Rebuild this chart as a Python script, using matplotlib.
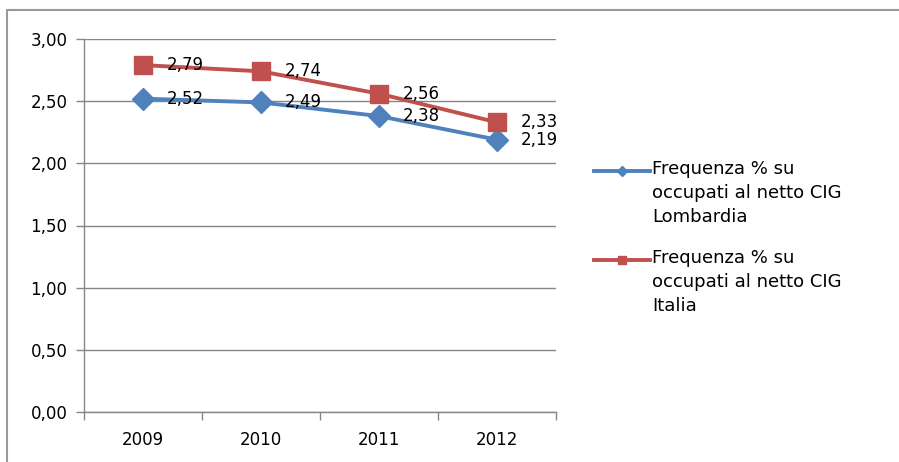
import matplotlib.pyplot as plt
from matplotlib.lines import Line2D
from matplotlib.ticker import FuncFormatter

years = ['2009', '2010', '2011', '2012']
lombardia = [2.52, 2.49, 2.38, 2.19]
italia = [2.79, 2.74, 2.56, 2.33]
label_lomb = 'Frequenza % su\noccupati al netto CIG\nLombardia'
label_ita = 'Frequenza % su\noccupati al netto CIG\nItalia'

blue = '#4F81BD'
red = '#C0504D'
grey = '#868686'
plt.rcParams['font.family'] = ['DejaVu Sans']

fig = plt.figure(figsize=(8.99, 4.62), dpi=100)
ax = fig.add_axes([84 / 899, 1 - 412 / 462, 472 / 899, 373 / 462])

x = list(range(len(years)))
ax.plot(x, lombardia, color=blue, lw=2.8, marker='D', ms=11, zorder=3)
ax.plot(x, italia, color=red, lw=2.8, marker='s', ms=13.5, zorder=3)

def fmt(v):
    return f'{v:.2f}'.replace('.', ',')

for series in (lombardia, italia):
    for i, v in enumerate(series):
        ax.annotate(fmt(v), (i, v), xytext=(17, 0), textcoords='offset points',
                    va='center', ha='left', fontsize=12, color='black', zorder=4)

ax.set_ylim(0, 3)
ax.set_xlim(-0.5, 3.5)
ax.set_yticks([0, 0.5, 1, 1.5, 2, 2.5, 3])
ax.yaxis.set_major_formatter(FuncFormatter(lambda v, p: fmt(v)))
ax.grid(axis='y', color=grey, lw=1)
ax.set_axisbelow(True)

ax.set_xticks(x)
ax.set_xticklabels(years)
ax.set_xticks([-0.5, 0.5, 1.5, 2.5, 3.5], minor=True)
ax.tick_params(axis='x', which='major', length=0, pad=14, labelsize=12)
ax.tick_params(axis='x', which='minor', length=6, color=grey, width=1)
ax.tick_params(axis='y', length=6, color=grey, width=1, labelsize=12, pad=6)

for s in ['top', 'right']:
    ax.spines[s].set_visible(False)
for s in ['left', 'bottom']:
    ax.spines[s].set_color(grey)
    ax.spines[s].set_linewidth(1)

# legend drawn by hand so the key sits on the first text line
W, H = 899, 462
for y0, col, mk, ms, lab in [(171, blue, 'D', 5, label_lomb), (260, red, 's', 6, label_ita)]:
    fig.add_artist(Line2D([594 / W, 650 / W], [1 - y0 / H, 1 - y0 / H], color=col, lw=2.8,
                          transform=fig.transFigure))
    fig.add_artist(Line2D([622 / W], [1 - y0 / H], color=col, marker=mk, ms=ms,
                          transform=fig.transFigure))
    fig.text(652 / W, 1 - (y0 - 11) / H, lab, fontsize=13, va='top', ha='left', linespacing=1.42)

# outer chart frame
fig.add_artist(Line2D([7 / W, 7 / W, 1], [0, 1 - 10 / H, 1 - 10 / H], color='#999999', lw=1.5,
                      transform=fig.transFigure))

fig.savefig('out.png', dpi=100)
